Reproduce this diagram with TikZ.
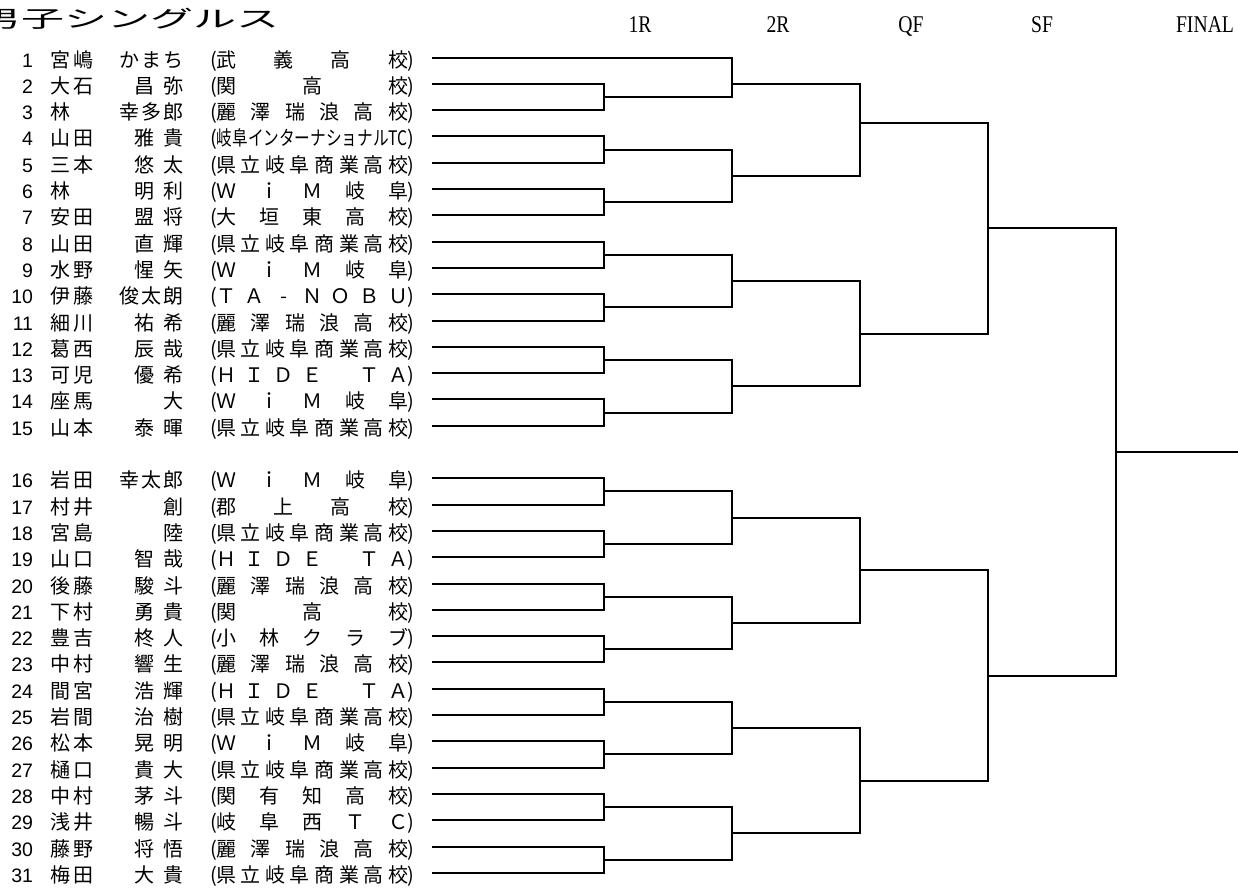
\documentclass[tikz,border=0pt]{standalone}
\usepackage{fontspec}
\usepackage{graphicx}
\setmainfont{Noto Sans CJK JP}
\newfontfamily\numfont{Liberation Sans}
\newfontfamily\hdrfont{Liberation Serif}

\newif\iffirstcell
\newcommand\cell[1]{\makebox[19pt][c]{#1}}
\def\Dendmark{\Dend}
\def\Dloop#1,{\def\tmpa{#1}\ifx\tmpa\Dendmark\else\iffirstcell\firstcellfalse\else\hfill\fi\cell{#1}\expandafter\Dloop\fi}
\newcommand\D[2]{\makebox[#1pt][l]{\firstcelltrue\Dloop#2,\Dend,}}
\newcommand\KEN{\D{191}{県,立,岐,阜,商,業,高,校}}
\newcommand\REI{\D{191}{麗,澤,瑞,浪,高,校}}
\newcommand\WIM{\D{191}{Ｗ,ｉ,Ｍ,岐,阜}}
\newcommand\HIDE{\D{191}{Ｈ,Ｉ,Ｄ,Ｅ,,Ｔ,Ａ}}
\newcommand\hd[1]{\scalebox{0.82}[1]{#1}}
% row line y (unrounded), rows 16+ skip one blank row
\newcommand\ry[1]{(57.5+(#1-1+(#1>15))*26.3)}
% rounded mid of rows #1 and #2
\newcommand\my[2]{round((\ry{#1}+\ry{#2})/2)}

\newcommand\pl[4]{%
  \pgfmathsetmacro\yy{round(\ry{#1})}%
  \node[num] (num#1) at (33,\yy+9) {#1};
  \node[txt, anchor=base west] (sur#1) at (51,\yy+9) {#2};
  \node[txt, anchor=base east] (giv#1) at (183,\yy+9) {#3};
  \node[txt, anchor=base west] (sch#1) at (210,\yy+9) {(#4)};
  \coordinate (s#1) at (432,\yy);
}

\begin{document}
\begin{tikzpicture}[x=1pt,y=-1pt,
  txt/.style={inner sep=0pt, outer sep=0pt, font=\fontsize{20}{20}\selectfont},
  num/.style={txt, font=\numfont\fontsize{19.5}{19.5}\selectfont, anchor=base east},
  hdr/.style={inner sep=0pt, anchor=base, font=\hdrfont\fontsize{24}{24}\selectfont},
  br/.style={line width=2pt, line join=miter}]
\useasboundingbox[fill=white] (0,0) rectangle (1238,887);

\node[inner sep=0pt, anchor=base west] (title) at (-22,27.5)
  {\scalebox{1.87}[1]{\fontsize{23}{23}\selectfont 男子シングルス}};
\node[hdr] (h1) at (640,32) {\hd{1R}};
\node[hdr] (h2) at (778,32) {\hd{2R}};
\node[hdr] (h3) at (911,32) {\hd{QF}};
\node[hdr] (h4) at (1042,32) {\hd{SF}};
\node[hdr] (h5) at (1205,32) {\hd{FINAL}};

\pl{1}{\D{42}{宮,嶋}}{\D{63}{か,ま,ち}}{\D{191}{武,義,高,校}}
\pl{2}{\D{42}{大,石}}{\D{48}{昌,弥}}{\D{191}{関,高,校}}
\pl{3}{\D{19}{林}}{\D{63}{幸,多,郎}}{\REI}
\pl{4}{\D{42}{山,田}}{\D{48}{雅,貴}}{\resizebox{191pt}{\height}{岐阜インターナショナルTC}}
\pl{5}{\D{42}{三,本}}{\D{48}{悠,太}}{\KEN}
\pl{6}{\D{19}{林}}{\D{48}{明,利}}{\WIM}
\pl{7}{\D{42}{安,田}}{\D{48}{盟,将}}{\D{191}{大,垣,東,高,校}}
\pl{8}{\D{42}{山,田}}{\D{48}{直,輝}}{\KEN}
\pl{9}{\D{42}{水,野}}{\D{48}{惺,矢}}{\WIM}
\pl{10}{\D{42}{伊,藤}}{\D{63}{俊,太,朗}}{\D{191}{Ｔ,Ａ,-,Ｎ,Ｏ,Ｂ,Ｕ}}
\pl{11}{\D{42}{細,川}}{\D{48}{祐,希}}{\REI}
\pl{12}{\D{42}{葛,西}}{\D{48}{辰,哉}}{\KEN}
\pl{13}{\D{42}{可,児}}{\D{48}{優,希}}{\HIDE}
\pl{14}{\D{42}{座,馬}}{\D{19}{大}}{\WIM}
\pl{15}{\D{42}{山,本}}{\D{48}{泰,暉}}{\KEN}
\pl{16}{\D{42}{岩,田}}{\D{63}{幸,太,郎}}{\WIM}
\pl{17}{\D{42}{村,井}}{\D{19}{創}}{\D{191}{郡,上,高,校}}
\pl{18}{\D{42}{宮,島}}{\D{19}{陸}}{\KEN}
\pl{19}{\D{42}{山,口}}{\D{48}{智,哉}}{\HIDE}
\pl{20}{\D{42}{後,藤}}{\D{48}{駿,斗}}{\REI}
\pl{21}{\D{42}{下,村}}{\D{48}{勇,貴}}{\D{191}{関,高,校}}
\pl{22}{\D{42}{豊,吉}}{\D{48}{柊,人}}{\D{191}{小,林,ク,ラ,ブ}}
\pl{23}{\D{42}{中,村}}{\D{48}{響,生}}{\REI}
\pl{24}{\D{42}{間,宮}}{\D{48}{浩,輝}}{\HIDE}
\pl{25}{\D{42}{岩,間}}{\D{48}{治,樹}}{\KEN}
\pl{26}{\D{42}{松,本}}{\D{48}{晃,明}}{\WIM}
\pl{27}{\D{42}{樋,口}}{\D{48}{貴,大}}{\KEN}
\pl{28}{\D{42}{中,村}}{\D{48}{茅,斗}}{\D{191}{関,有,知,高,校}}
\pl{29}{\D{42}{浅,井}}{\D{48}{暢,斗}}{\D{191}{岐,阜,西,Ｔ,Ｃ}}
\pl{30}{\D{42}{藤,野}}{\D{48}{将,悟}}{\REI}
\pl{31}{\D{42}{梅,田}}{\D{48}{大,貴}}{\KEN}

% 1R
\foreach \i in {2,4,...,30} {
  \pgfmathtruncatemacro\j{\i+1}
  \coordinate (a\i) at (604,{\my{\i}{\j}});
  \draw[br] (s\i) -| (a\i) |- (s\j);
}
% 2R
\coordinate (b1) at (732,{round(\ry{2})});
\draw[br] (s1) -| (b1) |- (a2);
\foreach \k/\p/\q/\lo/\hi in {2/4/6/4/7,3/8/10/8/11,4/12/14/12/15,5/16/18/16/19,6/20/22/20/23,7/24/26/24/27,8/28/30/28/31} {
  \coordinate (b\k) at (732,{\my{\lo}{\hi}});
  \draw[br] (a\p) -| (b\k) |- (a\q);
}
% QF
\coordinate (c1) at (860,{\my{3}{4}});
\draw[br] (b1) -| (c1) |- (b2);
\foreach \k/\p/\q/\lo/\hi in {2/3/4/8/15,3/5/6/16/23,4/7/8/24/31} {
  \coordinate (c\k) at (860,{\my{\lo}{\hi}});
  \draw[br] (b\p) -| (c\k) |- (b\q);
}
% SF
\coordinate (d1) at (988,{round((\ry{3}+\ry{4}+\ry{8}+\ry{15})/4)});
\draw[br] (c1) -| (d1) |- (c2);
\coordinate (d2) at (988,{\my{16}{31}});
\draw[br] (c3) -| (d2) |- (c4);
% Final
\coordinate (e) at (1116,{round(((\ry{3}+\ry{4}+\ry{8}+\ry{15})/4+(\ry{16}+\ry{31})/2)/2)});
\draw[br] (d1) -| (e) |- (d2);
\coordinate (champ) at (1240,{round(((\ry{3}+\ry{4}+\ry{8}+\ry{15})/4+(\ry{16}+\ry{31})/2)/2)});
\draw[br] (e) -- (champ);
\end{tikzpicture}
\end{document}
